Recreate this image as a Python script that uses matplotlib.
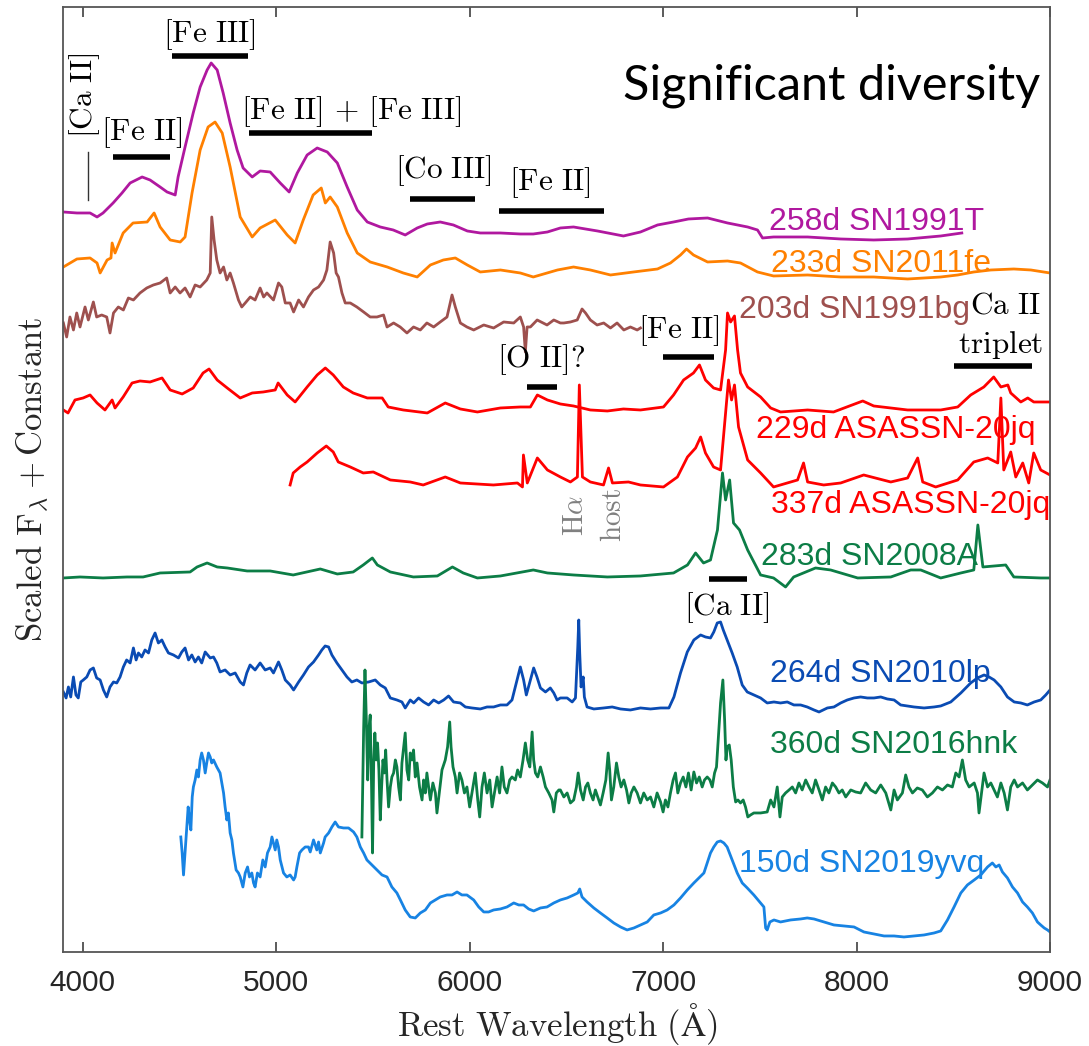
import matplotlib
matplotlib.use("Agg")
import matplotlib.pyplot as plt

plt.rcParams['mathtext.fontset'] = 'cm'

# ---------------- data (wavelength in Angstrom, scaled flux + constant) ----------------
wl_91T = [3900, 3970, 4038, 4074, 4105, 4157, 4203, 4245, 4307, 4348, 4400, 4436, 4478, 4493, 4529, 4571,
          4607, 4643, 4664, 4695, 4726, 4762, 4798, 4829, 4876, 4917, 4969, 5021, 5067, 5109, 5160, 5212,
          5264, 5316, 5367, 5419, 5471, 5538, 5605, 5667, 5729, 5781, 5848, 5916, 5988, 6055, 6159, 6262,
          6329, 6402, 6469, 6537, 6661, 6795, 6883, 6971, 7054, 7131, 7230, 7333, 7437, 7488, 7514, 7571,
          7747, 7918, 8089, 8264, 8435, 8544]
fl_91T = [7.39, 7.38, 7.38, 7.34, 7.38, 7.48, 7.58, 7.68, 7.74, 7.71, 7.64, 7.59, 7.56, 7.74, 8.04, 8.38,
          8.64, 8.81, 8.88, 8.81, 8.58, 8.28, 8.01, 7.83, 7.74, 7.80, 7.79, 7.68, 7.59, 7.78, 7.96, 8.03,
          7.99, 7.88, 7.64, 7.41, 7.29, 7.24, 7.21, 7.16, 7.23, 7.27, 7.29, 7.26, 7.20, 7.18, 7.18, 7.17,
          7.17, 7.19, 7.23, 7.24, 7.20, 7.15, 7.19, 7.26, 7.29, 7.32, 7.33, 7.28, 7.24, 7.21, 7.13, 7.14,
          7.14, 7.12, 7.11, 7.12, 7.15, 7.18]

wl_11fe = [3900, 3970, 4038, 4074, 4090, 4126, 4146, 4152, 4167, 4209, 4260, 4333, 4369, 4400, 4452, 4504,
           4529, 4565, 4607, 4648, 4684, 4721, 4762, 4814, 4876, 4917, 4995, 5057, 5098, 5140, 5191, 5233,
           5254, 5279, 5316, 5367, 5419, 5486, 5574, 5657, 5729, 5797, 5864, 5926, 5988, 6055, 6159, 6262,
           6329, 6454, 6537, 6624, 6728, 6847, 6971, 7038, 7090, 7121, 7157, 7230, 7333, 7400, 7488, 7571,
           7747, 7918, 8089, 8264, 8435, 8523, 8606, 8694, 8813, 8901, 9000]
fl_11fe = [6.84, 6.92, 6.93, 6.88, 6.78, 6.91, 6.93, 7.08, 6.98, 7.18, 7.28, 7.29, 7.38, 7.24, 7.11, 7.09,
           7.14, 7.58, 8.01, 8.24, 8.29, 8.18, 7.84, 7.34, 7.14, 7.23, 7.31, 7.16, 7.08, 7.31, 7.56, 7.63,
           7.48, 7.54, 7.44, 7.18, 6.98, 6.89, 6.84, 6.78, 6.74, 6.86, 6.91, 6.93, 6.86, 6.79, 6.81, 6.78,
           6.74, 6.81, 6.84, 6.81, 6.76, 6.79, 6.82, 6.88, 6.96, 7.02, 6.96, 6.89, 6.90, 6.88, 6.79, 6.75,
           6.76, 6.74, 6.74, 6.72, 6.74, 6.76, 6.79, 6.81, 6.82, 6.81, 6.78]

wl_91bg = [3900, 3917, 3934, 3952, 3969, 3986, 4012, 4029, 4055, 4072, 4098, 4124, 4141, 4159, 4184, 4210,
           4236, 4262, 4296, 4331, 4365, 4400, 4434, 4452, 4478, 4503, 4529, 4555, 4581, 4607, 4641, 4659,
           4667, 4679, 4693, 4710, 4728, 4745, 4762, 4779, 4805, 4822, 4840, 4866, 4891, 4917, 4935, 4952,
           4986, 5012, 5029, 5047, 5072, 5090, 5116, 5141, 5167, 5193, 5219, 5245, 5262, 5279, 5297, 5310,
           5322, 5340, 5357, 5383, 5417, 5452, 5486, 5521, 5555, 5573, 5607, 5641, 5676, 5710, 5745, 5779,
           5814, 5848, 5883, 5909, 5926, 5952, 5986, 6021, 6073, 6124, 6176, 6228, 6262, 6279, 6288, 6297,
           6314, 6349, 6400, 6435, 6469, 6487, 6521, 6556, 6581, 6599, 6624, 6659, 6693, 6728, 6762, 6797,
           6831, 6866, 6883]
fl_91bg = [6.28, 6.14, 6.34, 6.21, 6.38, 6.24, 6.44, 6.31, 6.49, 6.34, 6.36, 6.34, 6.18, 6.38, 6.44, 6.41,
           6.53, 6.51, 6.58, 6.63, 6.66, 6.68, 6.73, 6.58, 6.64, 6.58, 6.63, 6.54, 6.66, 6.64, 6.71, 6.78,
           7.34, 7.11, 6.91, 6.78, 6.84, 6.71, 6.78, 6.68, 6.51, 6.44, 6.48, 6.54, 6.51, 6.63, 6.54, 6.58,
           6.51, 6.68, 6.64, 6.48, 6.48, 6.39, 6.51, 6.44, 6.54, 6.61, 6.64, 6.71, 6.81, 7.09, 6.98, 6.78,
           6.74, 6.58, 6.48, 6.48, 6.44, 6.39, 6.34, 6.34, 6.36, 6.24, 6.28, 6.24, 6.18, 6.24, 6.21, 6.28,
           6.24, 6.29, 6.34, 6.56, 6.44, 6.28, 6.24, 6.21, 6.26, 6.23, 6.29, 6.28, 6.34, 6.24, 5.99, 6.24,
           6.24, 6.31, 6.26, 6.31, 6.28, 6.28, 6.29, 6.31, 6.42, 6.38, 6.31, 6.26, 6.28, 6.23, 6.28, 6.21,
           6.24, 6.21, 6.23]

wl_20jq_229 = [3900, 3924, 3960, 4002, 4038, 4074, 4115, 4152, 4167, 4209, 4255, 4296, 4348, 4410, 4452, 4514,
               4571, 4622, 4653, 4695, 4747, 4814, 4876, 4933, 4995, 5010, 5057, 5098, 5160, 5212, 5254, 5295,
               5347, 5398, 5471, 5548, 5579, 5657, 5781, 5874, 5952, 6040, 6159, 6262, 6314, 6350, 6402, 6469,
               6537, 6624, 6712, 6795, 6883, 7002, 7054, 7106, 7157, 7188, 7219, 7261, 7297, 7323, 7333, 7349,
               7369, 7385, 7400, 7437, 7504, 7556, 7607, 7747, 7881, 8032, 8089, 8264, 8435, 8523, 8590, 8658,
               8709, 8746, 8782, 8797, 8849, 8885, 8916, 9000]
fl_20jq_229 = [5.41, 5.38, 5.51, 5.53, 5.56, 5.48, 5.41, 5.51, 5.43, 5.54, 5.68, 5.70, 5.69, 5.73, 5.61, 5.57,
               5.63, 5.78, 5.82, 5.71, 5.63, 5.53, 5.58, 5.59, 5.61, 5.68, 5.56, 5.49, 5.64, 5.76, 5.83, 5.76,
               5.64, 5.58, 5.53, 5.53, 5.44, 5.41, 5.38, 5.48, 5.42, 5.39, 5.43, 5.44, 5.44, 5.56, 5.51, 5.47,
               5.45, 5.41, 5.40, 5.42, 5.41, 5.44, 5.56, 5.71, 5.78, 5.86, 5.71, 5.63, 5.61, 6.01, 6.38, 6.29,
               6.35, 6.01, 5.78, 5.64, 5.54, 5.43, 5.39, 5.41, 5.39, 5.50, 5.45, 5.41, 5.41, 5.44, 5.56, 5.64,
               5.74, 5.64, 5.66, 5.58, 5.49, 5.53, 5.49, 5.49]

wl_20jq_337 = [5072, 5088, 5124, 5160, 5212, 5259, 5295, 5321, 5383, 5450, 5502, 5590, 5693, 5760, 5874, 5952,
               6123, 6247, 6273, 6278, 6298, 6350, 6402, 6469, 6521, 6557, 6567, 6583, 6624, 6692, 6718, 6738,
               6821, 6883, 7002, 7074, 7126, 7168, 7194, 7219, 7261, 7297, 7323, 7338, 7354, 7369, 7390, 7437,
               7504, 7571, 7695, 7726, 7747, 7830, 7918, 8037, 8177, 8264, 8316, 8342, 8409, 8523, 8606, 8678,
               8730, 8746, 8761, 8797, 8823, 8859, 8890, 8916, 8952, 9000]
fl_20jq_337 = [4.66, 4.78, 4.84, 4.89, 4.98, 5.05, 4.99, 4.89, 4.84, 4.78, 4.79, 4.71, 4.69, 4.66, 4.74, 4.68,
               4.66, 4.68, 4.64, 4.96, 4.68, 4.93, 4.81, 4.74, 4.69, 4.74, 5.66, 4.74, 4.69, 4.66, 4.83, 4.68,
               4.69, 4.66, 4.64, 4.74, 4.94, 5.03, 5.14, 4.98, 4.84, 4.81, 5.38, 5.71, 5.51, 5.66, 5.24, 4.91,
               4.78, 4.64, 4.71, 4.88, 4.69, 4.66, 4.68, 4.76, 4.69, 4.73, 4.93, 4.69, 4.64, 4.71, 4.89, 4.93,
               4.88, 5.53, 4.81, 4.99, 4.74, 4.88, 4.68, 4.98, 4.81, 4.76]

wl_08A = [3900, 3986, 4105, 4229, 4312, 4400, 4555, 4591, 4643, 4695, 4747, 4850, 4969, 5088, 5228, 5316,
          5398, 5450, 5497, 5523, 5590, 5709, 5833, 5911, 5967, 6040, 6159, 6329, 6402, 6537, 6712, 6883,
          7054, 7126, 7168, 7209, 7245, 7281, 7307, 7323, 7344, 7364, 7395, 7437, 7504, 7571, 7633, 7675,
          7788, 7866, 8006, 8177, 8280, 8332, 8435, 8539, 8606, 8627, 8653, 8771, 8813, 8952, 9000]
fl_08A = [3.73, 3.74, 3.73, 3.74, 3.74, 3.78, 3.79, 3.84, 3.88, 3.84, 3.83, 3.80, 3.80, 3.76, 3.82, 3.77,
          3.79, 3.86, 3.93, 3.86, 3.79, 3.74, 3.75, 3.84, 3.78, 3.73, 3.75, 3.81, 3.78, 3.76, 3.74, 3.75,
          3.78, 3.86, 3.98, 3.88, 3.91, 4.21, 4.78, 4.51, 4.71, 4.28, 4.21, 4.01, 3.76, 3.73, 3.64, 3.74,
          3.83, 3.81, 3.73, 3.74, 3.81, 3.81, 3.73, 3.78, 3.81, 4.26, 3.84, 3.86, 3.74, 3.73, 3.73]

wl_10lp = [3900, 3914, 3926, 3938, 3952, 3965, 3977, 3990, 4003, 4021, 4038, 4055, 4072, 4090, 4107, 4124,
           4141, 4159, 4176, 4193, 4210, 4227, 4245, 4262, 4276, 4288, 4305, 4322, 4340, 4357, 4374, 4391,
           4409, 4426, 4443, 4469, 4495, 4512, 4529, 4547, 4564, 4581, 4598, 4615, 4633, 4659, 4676, 4693,
           4710, 4736, 4762, 4788, 4814, 4831, 4848, 4865, 4891, 4917, 4943, 4969, 4986, 5012, 5029, 5047,
           5072, 5090, 5116, 5141, 5167, 5193, 5219, 5236, 5253, 5271, 5288, 5314, 5340, 5366, 5391, 5417,
           5443, 5478, 5512, 5538, 5564, 5590, 5624, 5650, 5667, 5693, 5711, 5736, 5762, 5788, 5814, 5840,
           5866, 5891, 5917, 5952, 5978, 6012, 6055, 6090, 6124, 6159, 6193, 6219, 6236, 6262, 6279, 6293,
           6314, 6331, 6348, 6366, 6392, 6417, 6435, 6452, 6469, 6504, 6530, 6547, 6559, 6564, 6569, 6576,
           6587, 6593, 6607, 6642, 6693, 6737, 6780, 6831, 6883, 6935, 6987, 7030, 7056, 7090, 7125, 7159,
           7194, 7219, 7245, 7262, 7280, 7297, 7311, 7331, 7357, 7383, 7409, 7435, 7469, 7504, 7538, 7573,
           7607, 7642, 7676, 7711, 7745, 7780, 7806, 7849, 7883, 7918, 7952, 7987, 8021, 8056, 8090, 8125,
           8159, 8194, 8228, 8263, 8297, 8349, 8401, 8435, 8487, 8539, 8590, 8625, 8659, 8685, 8711, 8746,
           8780, 8815, 8849, 8883, 8918, 8952, 8978, 9000]
fl_10lp = [2.59, 2.53, 2.64, 2.54, 2.74, 2.56, 2.53, 2.69, 2.71, 2.74, 2.81, 2.83, 2.73, 2.71, 2.61, 2.54,
           2.64, 2.69, 2.68, 2.74, 2.84, 2.91, 2.88, 3.03, 2.91, 2.98, 2.94, 3.01, 2.98, 3.11, 3.18, 3.08,
           3.11, 3.04, 2.98, 2.96, 2.93, 2.99, 3.03, 2.91, 2.96, 2.89, 2.94, 2.88, 2.99, 2.93, 2.94, 2.88,
           2.79, 2.81, 2.76, 2.78, 2.69, 2.66, 2.78, 2.86, 2.81, 2.88, 2.81, 2.83, 2.78, 2.89, 2.81, 2.71,
           2.66, 2.61, 2.69, 2.76, 2.84, 2.89, 2.96, 3.01, 3.05, 3.04, 2.96, 2.88, 2.81, 2.74, 2.69, 2.71,
           2.68, 2.69, 2.71, 2.66, 2.63, 2.53, 2.51, 2.49, 2.43, 2.51, 2.48, 2.53, 2.49, 2.46, 2.51, 2.48,
           2.51, 2.55, 2.49, 2.48, 2.44, 2.43, 2.42, 2.44, 2.44, 2.46, 2.46, 2.51, 2.64, 2.84, 2.71, 2.56,
           2.71, 2.83, 2.74, 2.63, 2.59, 2.63, 2.58, 2.51, 2.53, 2.53, 2.49, 2.53, 3.04, 3.31, 2.98, 2.64,
           2.74, 2.54, 2.44, 2.42, 2.43, 2.44, 2.42, 2.41, 2.43, 2.42, 2.43, 2.43, 2.54, 2.78, 2.99, 3.11,
           3.16, 3.14, 3.13, 3.19, 3.28, 3.29, 3.21, 3.11, 2.98, 2.84, 2.66, 2.59, 2.56, 2.53, 2.48, 2.49,
           2.48, 2.49, 2.46, 2.46, 2.44, 2.41, 2.39, 2.43, 2.44, 2.48, 2.51, 2.53, 2.54, 2.53, 2.53, 2.54,
           2.52, 2.51, 2.46, 2.45, 2.44, 2.43, 2.44, 2.45, 2.49, 2.58, 2.68, 2.73, 2.76, 2.74, 2.71, 2.64,
           2.54, 2.49, 2.48, 2.46, 2.49, 2.51, 2.56, 2.61]

wl_16hnk = [5443, 5452, 5459, 5466, 5473, 5479, 5486, 5493, 5498, 5504, 5510, 5517, 5524, 5531, 5538, 5545,
            5552, 5559, 5566, 5573, 5581, 5590, 5598, 5607, 5616, 5624, 5633, 5642, 5650, 5659, 5667, 5676,
            5685, 5693, 5702, 5710, 5719, 5728, 5741, 5754, 5762, 5771, 5779, 5788, 5797, 5810, 5823, 5831,
            5845, 5857, 5874, 5886, 5897, 5904, 5914, 5926, 5935, 5948, 5960, 5973, 5986, 6000, 6012, 6029,
            6042, 6052, 6064, 6076, 6090, 6104, 6116, 6128, 6142, 6155, 6167, 6179, 6193, 6207, 6219, 6236,
            6248, 6262, 6276, 6288, 6300, 6311, 6323, 6331, 6340, 6352, 6366, 6380, 6392, 6409, 6426, 6435,
            6448, 6461, 6469, 6487, 6504, 6521, 6538, 6552, 6561, 6573, 6587, 6599, 6611, 6624, 6638, 6650,
            6662, 6676, 6690, 6704, 6716, 6724, 6733, 6745, 6759, 6771, 6783, 6797, 6811, 6823, 6835, 6849,
            6866, 6883, 6900, 6918, 6935, 6952, 6969, 6987, 7000, 7012, 7025, 7038, 7052, 7064, 7076, 7090,
            7104, 7118, 7131, 7145, 7159, 7173, 7187, 7202, 7214, 7228, 7242, 7254, 7266, 7276, 7288, 7297,
            7309, 7318, 7325, 7331, 7342, 7352, 7363, 7375, 7387, 7400, 7414, 7426, 7438, 7452, 7469, 7504,
            7538, 7556, 7573, 7590, 7604, 7616, 7633, 7651, 7668, 7685, 7702, 7719, 7737, 7754, 7771, 7788,
            7806, 7823, 7840, 7857, 7875, 7892, 7909, 7926, 7944, 7970, 7995, 8021, 8047, 8073, 8099, 8125,
            8151, 8177, 8194, 8211, 8237, 8254, 8271, 8289, 8314, 8340, 8366, 8392, 8418, 8444, 8470, 8495,
            8513, 8530, 8547, 8564, 8582, 8608, 8625, 8633, 8646, 8659, 8677, 8694, 8711, 8728, 8746, 8763,
            8780, 8797, 8815, 8832, 8858, 8883, 8909, 8935, 8961, 8987, 9000]
fl_16hnk = [1.14, 2.21, 2.81, 2.31, 1.71, 2.21, 2.36, 1.64, 0.98, 1.88, 2.18, 1.91, 2.08, 1.81, 1.31, 1.64,
            1.91, 1.78, 2.01, 1.71, 1.44, 1.64, 1.74, 1.78, 1.91, 1.84, 1.64, 1.51, 1.88, 2.04, 2.18, 1.81,
            1.71, 1.98, 1.91, 2.01, 1.74, 1.88, 1.64, 1.51, 1.71, 1.58, 1.78, 1.64, 1.51, 1.68, 1.58, 1.38,
            1.61, 1.81, 1.91, 2.04, 2.29, 2.04, 1.84, 1.74, 1.58, 1.78, 1.71, 1.58, 1.64, 1.44, 1.58, 1.78,
            1.51, 1.34, 1.64, 1.78, 1.58, 1.71, 1.44, 1.58, 1.74, 1.58, 1.84, 1.64, 1.58, 1.71, 1.74, 1.71,
            1.81, 1.74, 1.91, 2.08, 1.91, 1.84, 2.19, 1.91, 1.78, 1.74, 1.84, 1.74, 1.64, 1.58, 1.51, 1.39,
            1.58, 1.61, 1.61, 1.54, 1.58, 1.48, 1.51, 1.64, 1.78, 1.61, 1.51, 1.64, 1.68, 1.58, 1.51, 1.61,
            1.54, 1.46, 1.58, 1.71, 1.98, 1.81, 1.51, 1.64, 1.88, 1.74, 1.64, 1.71, 1.61, 1.48, 1.58, 1.64,
            1.58, 1.48, 1.58, 1.51, 1.54, 1.44, 1.58, 1.49, 1.39, 1.51, 1.44, 1.58, 1.71, 1.78, 1.58, 1.68,
            1.74, 1.64, 1.78, 1.61, 1.79, 1.68, 1.74, 1.64, 1.71, 1.74, 1.71, 1.64, 1.78, 1.84, 2.21, 2.48,
            2.71, 2.31, 1.91, 2.04, 2.06, 1.91, 1.64, 1.49, 1.51, 1.48, 1.51, 1.44, 1.34, 1.36, 1.38, 1.38,
            1.39, 1.51, 1.44, 1.64, 1.34, 1.54, 1.58, 1.61, 1.64, 1.58, 1.68, 1.61, 1.71, 1.64, 1.58, 1.71,
            1.61, 1.51, 1.64, 1.58, 1.68, 1.64, 1.58, 1.61, 1.54, 1.61, 1.59, 1.58, 1.68, 1.61, 1.58, 1.66,
            1.58, 1.41, 1.61, 1.51, 1.58, 1.76, 1.64, 1.58, 1.63, 1.61, 1.54, 1.58, 1.64, 1.61, 1.66, 1.64,
            1.78, 1.74, 1.91, 1.71, 1.64, 1.68, 1.58, 1.38, 1.58, 1.78, 1.64, 1.68, 1.61, 1.54, 1.68, 1.58,
            1.41, 1.64, 1.71, 1.64, 1.68, 1.61, 1.66, 1.71, 1.68, 1.64, 1.71]

wl_19yvq = [4507, 4514, 4521, 4529, 4538, 4545, 4552, 4559, 4566, 4572, 4581, 4590, 4598, 4607, 4615, 4624,
            4633, 4641, 4650, 4659, 4667, 4676, 4693, 4710, 4728, 4736, 4745, 4753, 4762, 4771, 4779, 4793,
            4805, 4814, 4828, 4840, 4852, 4862, 4874, 4883, 4891, 4903, 4917, 4931, 4943, 4955, 4969, 4978,
            4986, 4995, 5003, 5012, 5021, 5038, 5055, 5072, 5090, 5098, 5107, 5121, 5133, 5150, 5167, 5176,
            5193, 5210, 5219, 5228, 5245, 5253, 5271, 5288, 5305, 5322, 5348, 5374, 5400, 5417, 5435, 5452,
            5469, 5495, 5521, 5547, 5573, 5598, 5624, 5642, 5667, 5693, 5719, 5745, 5771, 5797, 5823, 5848,
            5883, 5909, 5935, 5960, 5986, 6021, 6047, 6073, 6098, 6124, 6159, 6193, 6228, 6254, 6279, 6305,
            6331, 6366, 6400, 6435, 6469, 6504, 6538, 6559, 6569, 6581, 6607, 6642, 6676, 6711, 6745, 6780,
            6814, 6849, 6883, 6918, 6952, 6987, 7021, 7056, 7090, 7125, 7159, 7185, 7211, 7228, 7245, 7262,
            7280, 7297, 7314, 7331, 7357, 7383, 7409, 7435, 7469, 7504, 7521, 7530, 7538, 7552, 7573, 7607,
            7659, 7711, 7745, 7780, 7832, 7883, 7935, 7987, 8038, 8090, 8142, 8194, 8245, 8297, 8349, 8401,
            8435, 8470, 8504, 8539, 8573, 8608, 8642, 8677, 8702, 8720, 8737, 8754, 8780, 8806, 8832, 8858,
            8883, 8909, 8935, 8952, 8970, 8987, 9000]
fl_19yvq = [1.14, 0.98, 0.76, 0.98, 1.24, 1.44, 1.31, 1.21, 1.54, 1.64, 1.71, 1.81, 1.74, 1.91, 1.98, 1.91,
            1.78, 1.88, 1.98, 1.94, 1.88, 1.91, 1.84, 1.78, 1.58, 1.44, 1.31, 1.38, 1.18, 1.11, 0.98, 0.81,
            0.78, 0.74, 0.64, 0.78, 0.84, 0.74, 0.78, 0.68, 0.64, 0.78, 0.74, 0.91, 0.84, 0.98, 1.04, 1.14,
            1.08, 1.01, 1.11, 1.04, 0.91, 0.78, 0.74, 0.76, 0.71, 0.74, 0.84, 0.98, 1.01, 1.04, 1.04, 0.99,
            1.11, 1.01, 1.09, 0.98, 1.08, 1.14, 1.18, 1.24, 1.29, 1.24, 1.23, 1.23, 1.19, 1.14, 1.04, 0.98,
            0.91, 0.86, 0.81, 0.76, 0.74, 0.64, 0.58, 0.51, 0.41, 0.34, 0.33, 0.38, 0.41, 0.48, 0.51, 0.54,
            0.56, 0.56, 0.59, 0.56, 0.56, 0.51, 0.44, 0.39, 0.39, 0.41, 0.42, 0.44, 0.48, 0.46, 0.46, 0.42,
            0.40, 0.43, 0.44, 0.48, 0.51, 0.53, 0.56, 0.58, 0.62, 0.54, 0.49, 0.43, 0.38, 0.33, 0.28, 0.24,
            0.21, 0.23, 0.26, 0.29, 0.36, 0.38, 0.41, 0.46, 0.53, 0.61, 0.68, 0.73, 0.78, 0.88, 0.98, 1.04,
            1.09, 1.10, 1.08, 1.04, 0.91, 0.78, 0.68, 0.63, 0.56, 0.48, 0.44, 0.23, 0.21, 0.29, 0.31, 0.29,
            0.31, 0.32, 0.33, 0.32, 0.29, 0.26, 0.25, 0.24, 0.19, 0.17, 0.15, 0.15, 0.14, 0.15, 0.16, 0.18,
            0.20, 0.31, 0.44, 0.58, 0.66, 0.71, 0.76, 0.84, 0.88, 0.84, 0.86, 0.79, 0.73, 0.64, 0.58, 0.49,
            0.44, 0.38, 0.29, 0.26, 0.23, 0.21, 0.19]

spectra = [
    (wl_91T, fl_91T, '#B0189F', '258d SN1991T', 7545, 7.21),
    (wl_11fe, fl_11fe, '#FF8000', '233d SN2011fe', 7556, 6.79),
    (wl_91bg, fl_91bg, '#9E504E', '203d SN1991bg', 7390, 6.33),
    (wl_20jq_229, fl_20jq_229, '#FF0000', '229d ASASSN-20jq', 7478, 5.13),
    (wl_20jq_337, fl_20jq_337, '#FF0000', '337d ASASSN-20jq', 7556, 4.38),
    (wl_08A, fl_08A, '#0C7D46', '283d SN2008A', 7504, 3.86),
    (wl_10lp, fl_10lp, '#0A4BB3', '264d SN2010lp', 7550, 2.69),
    (wl_16hnk, fl_16hnk, '#0C7D46', '360d SN2016hnk', 7550, 1.98),
    (wl_19yvq, fl_19yvq, '#1783E3', '150d SN2019yvq', 7390, 0.79),
]

# line identifications: (label, text x, text y, bar start, bar end, bar y)
line_ids = [
    (r'$\mathrm{[Fe\ II]}$', 4307, 8.18, 4157, 4452, 7.94),
    (r'$\mathrm{[Fe\ III]}$', 4653, 9.16, 4462, 4855, 8.95),
    (r'$\mathrm{[Fe\ II]\,+\,[Fe\ III]}$', 5388, 8.39, 4860, 5497, 8.18),
    (r'$\mathrm{[Co\ III]}$', 5864, 7.80, 5693, 6029, 7.52),
    (r'$\mathrm{[Fe\ II]}$', 6412, 7.68, 6154, 6692, 7.40),
    (r'$\mathrm{[O\ II]?}$', 6371, 5.91, 6298, 6454, 5.64),
    (r'$\mathrm{[Fe\ II]}$', 7079, 6.20, 7002, 7261, 5.94),
    (r'$\mathrm{[Ca\ II]}$', 7328, 3.43, 7235, 7432, 3.72),
]

# ---------------- figure ----------------
fig = plt.figure(figsize=(10.89, 10.46), dpi=100)
ax = fig.add_axes([0.0582, 0.0899, 0.906, 0.9037])

for wl, fl, col, lab, lx, ly in spectra:
    ax.plot(wl, fl, color=col, lw=2.0, solid_joinstyle='round')
    ax.text(lx, ly, lab, color=col, fontsize=23, family='Liberation Sans',
            ha='left', va='baseline')

for lab, tx, ty, b0, b1, by in line_ids:
    ax.plot([b0, b1], [by, by], color='black', lw=4.0, solid_capstyle='butt')
    ax.text(tx, ty, lab, fontsize=22.5, ha='center', va='center', color='black')

# Ca II triplet
ax.plot([8502, 8905], [5.85, 5.85], color='black', lw=4.0, solid_capstyle='butt')
ax.text(8771, 6.46, r'$\mathrm{Ca\ II}$', fontsize=22.5, ha='center', va='center')
ax.text(8746, 6.06, r'$\mathrm{triplet}$', fontsize=22.5, ha='center', va='center')

# [Ca II] at left edge
ax.plot([4027, 4027], [7.51, 7.99], color='#333333', lw=1.0)
ax.text(4010, 8.56, r'$\mathrm{[Ca\ II]}$', fontsize=22.5, rotation=90, ha='center', va='center')

# H alpha / host
ax.text(6547, 4.36, r'$\mathrm{H}\alpha$', fontsize=21, rotation=90, ha='center', va='center', color='#808080')
ax.text(6743, 4.36, r'$\mathrm{host}$', fontsize=21, rotation=90, ha='center', va='center', color='#808080')

ax.text(7871, 8.51, 'Significant diversity', fontsize=35, family='Lato', ha='center', va='baseline')

ax.set_xlim(3900, 9000)
ax.set_ylim(-0.01, 9.443)
ax.set_xticks([4000, 5000, 6000, 7000, 8000, 9000])
ax.set_yticks([])
ax.tick_params(axis='x', direction='in', top=True, length=7, width=1.2, labelsize=21.5,
               pad=12, colors='#404040', labelcolor='#262626')
for lbl in ax.get_xticklabels():
    lbl.set_family('Liberation Sans')
for sp in ax.spines.values():
    sp.set_color('#555555')
    sp.set_linewidth(1.3)

ax.set_xlabel(r'$\mathrm{Rest\ Wavelength\ (\AA)}$', fontsize=25, labelpad=3, color='#262626')
ax.set_ylabel(r'$\mathrm{Scaled\ F}_\lambda+\mathrm{Constant}$', fontsize=25, labelpad=8, color='#262626')

fig.savefig('out.png', dpi=100)
